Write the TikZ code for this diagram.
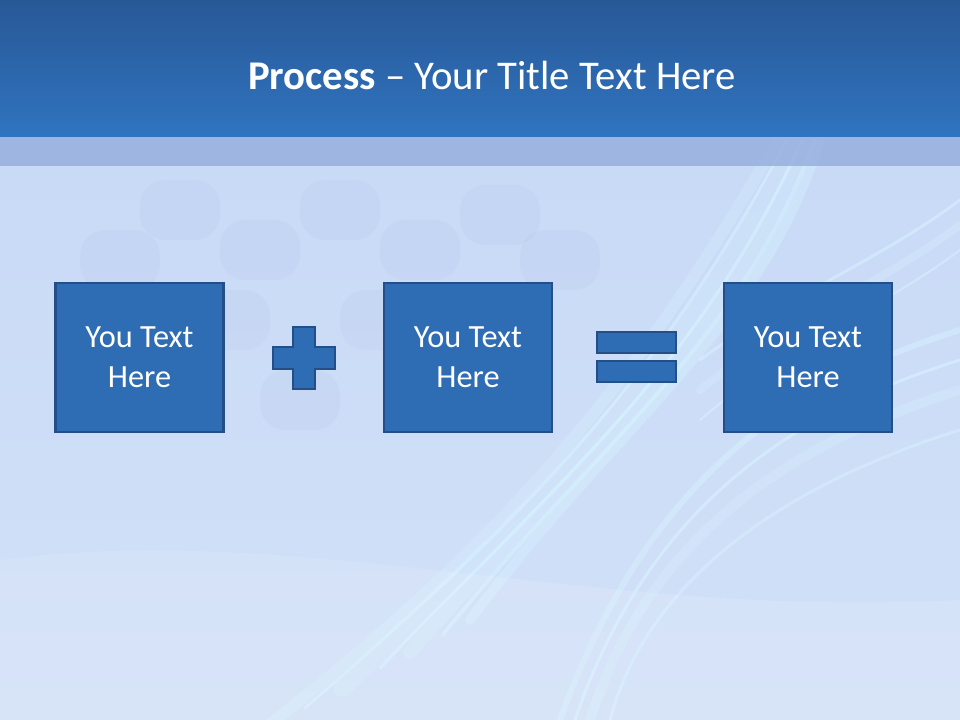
\documentclass[tikz,border=0pt]{standalone}
\usepackage{fontspec}
\setmainfont{Carlito}
\definecolor{bgblue}{RGB}{198,216,246}
\definecolor{bgbluelow}{RGB}{210,225,248}
\definecolor{bartop}{RGB}{40,88,150}
\definecolor{barbot}{RGB}{48,116,192}
\definecolor{bandblue}{RGB}{148,172,222}
\definecolor{boxfill}{RGB}{46,108,180}
\definecolor{boxline}{RGB}{36,78,136}
\definecolor{swirl}{RGB}{215,245,255}
\definecolor{blotch}{RGB}{175,192,228}
\tikzset{
  textbox/.style={draw=boxline, line width=1.6pt, fill=boxfill, minimum width=168*0.025cm, minimum height=149*0.025cm, inner sep=0pt, text=white, align=center, font=\fontsize{23}{28.5}\selectfont},
  signpart/.style={draw=boxline, line width=1.4pt, fill=boxfill},
  swirlline/.style={draw=swirl, line cap=round},
}
\begin{document}
\begin{tikzpicture}[x=0.025cm,y=-0.025cm]
\useasboundingbox (0,0) rectangle (960,720);
% background
\shade[top color=bgblue, bottom color=bgbluelow] (0,0) rectangle (960,720);
% faint blotches (upper left texture)
\foreach \cx/\cy in {180/210,260/250,340/210,420/250,500/215,230/320,380/320,560/260,120/260,300/400}{
  \fill[blotch,opacity=0.15,rounded corners=18] (\cx-40,\cy-30) rectangle (\cx+40,\cy+30);
}
% swirls
\foreach \o/\w/\op in {0/10/0.35,18/4/0.5,40/14/0.25,60/3/0.6,85/18/0.2,110/3/0.5,140/12/0.25}{
  \draw[swirlline, line width=\w*0.7pt, opacity=\op] (820-\o*0.3,140) .. controls (760-\o,330+\o*0.6) and (620-\o,420+\o) .. (470-\o*1.5,620+\o*0.8);
}
\foreach \o/\w/\op in {0/6/0.4,30/3/0.55,60/10/0.25,100/3/0.45}{
  \draw[swirlline, line width=\w*0.7pt, opacity=\op] (960,330+\o) .. controls (800,380+\o) and (650,470+\o) .. (560+\o*0.5,720);
}
\foreach \o/\w/\op in {0/3/0.5,25/8/0.25,50/2/0.5}{
  \draw[swirlline, line width=\w*0.7pt, opacity=\op] (960,200+\o) .. controls (880,260+\o) and (780,300+\o) .. (700,360+\o*1.2);
}
\fill[white,opacity=0.12] (0,560) .. controls (300,520) and (600,620) .. (960,600) -- (960,720) -- (0,720) -- cycle;
% title bar and band
\shade[top color=bartop, bottom color=barbot] (0,0) rectangle (960,137);
\fill[bandblue,opacity=0.8] (0,137) rectangle (960,166);
\node[text=white, font=\fontsize{29}{34}\selectfont] (title) at (492,75) {\textbf{Process} – Your Title Text Here};
% boxes
\node[textbox] (b1) at (139.5,357.5) {You Text\\Here};
\node[textbox] (b2) at (468,357.5) {You Text\\Here};
\node[textbox] (b3) at (808,357.5) {You Text\\Here};
% plus sign
\path[signpart] (293,327) -- (315,327) -- (315,347) -- (335,347) -- (335,369) -- (315,369) -- (315,389) -- (293,389) -- (293,369) -- (273,369) -- (273,347) -- (293,347) -- cycle;
\node[inner sep=0pt, minimum size=0pt] (plus) at (304,358) {};
% equals sign
\node[signpart, minimum width=79*0.025cm, minimum height=21*0.025cm, inner sep=0pt] (eqtop) at (636.5,342.5) {};
\node[signpart, minimum width=79*0.025cm, minimum height=21*0.025cm, inner sep=0pt] (eqbot) at (636.5,371.5) {};
\end{tikzpicture}
\end{document}
